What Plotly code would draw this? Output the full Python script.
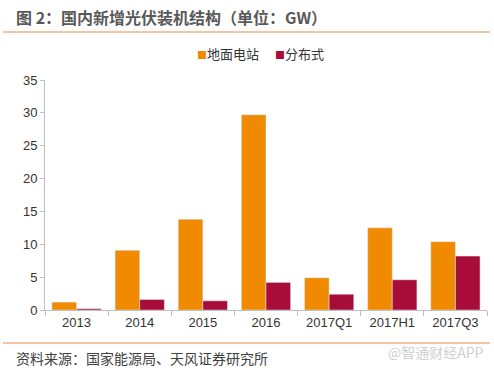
import plotly.graph_objects as go

categories = ["2013", "2014", "2015", "2016", "2017Q1", "2017H1", "2017Q3"]
ground = [1.2, 9.1, 13.8, 29.7, 4.9, 12.5, 10.4]
distributed = [0.2, 1.6, 1.4, 4.2, 2.4, 4.6, 8.2]
series_names = ["地面电站", "分布式"]
y_ticks = [0, 5, 10, 15, 20, 25, 30, 35]

ORANGE = "#F08A00"
RED = "#A80D3A"
W, H = 494, 374
L, R, T, B = 45, 7, 80, 64
PW, PH = W - L - R, H - T - B

def px(x):
    return (x - L) / PW

def py(y):
    return (H - B - y) / PH

FONT = "Liberation Sans, Arial, Noto Sans CJK SC"
CJK = "Noto Sans CJK SC, Liberation Sans"

fig = go.Figure()
fig.add_bar(x=categories, y=ground, name=series_names[0], marker_color=ORANGE, showlegend=False)
fig.add_bar(x=categories, y=distributed, name=series_names[1], marker_color=RED, showlegend=False)

fig.update_layout(
    width=W, height=H,
    margin=dict(l=L, r=R, t=T, b=B),
    paper_bgcolor="white", plot_bgcolor="white",
    barmode="group", bargap=0.22, bargroupgap=0,
    font=dict(family=FONT, size=13, color="#333333"),
    xaxis=dict(showline=True, linecolor="#BFBFBF", linewidth=1,
               ticks="outside", tickson="boundaries", ticklen=5, tickcolor="#BFBFBF",
               showgrid=False, tickfont=dict(size=13, color="#333333")),
    yaxis=dict(range=[0, 35], tickvals=y_ticks, showline=True, linecolor="#BFBFBF",
               linewidth=1, ticks="outside", ticklen=4, tickcolor="#BFBFBF",
               showgrid=False, zeroline=False, tickfont=dict(size=13, color="#333333")),
    showlegend=False,
)

lines = [32, 343]
for yy in lines:
    fig.add_shape(type="line", xref="paper", yref="paper", x0=px(3), x1=px(490),
                  y0=py(yy), y1=py(yy), line=dict(color="#F4B183", width=1.5))

fig.add_annotation(xref="paper", yref="paper", x=px(14), y=py(17), xanchor="left", yanchor="middle",
                   text="<b>图 2：国内新增光伏装机结构（单位：GW）</b>", showarrow=False,
                   font=dict(family=CJK, size=16, color="#595959"))

legend_text = (f"<span style='color:{ORANGE};font-size:10px'>■</span>{series_names[0]}"
               f"\u2003 <span style='color:{RED};font-size:10px'>■</span>{series_names[1]}")
fig.add_annotation(xref="paper", yref="paper", x=px(260), y=py(53), xanchor="center", yanchor="middle",
                   text=legend_text, showarrow=False, font=dict(family=CJK, size=13, color="#333333"))

fig.add_annotation(xref="paper", yref="paper", x=px(14), y=py(358), xanchor="left", yanchor="middle",
                   text="资料来源：国家能源局、天风证券研究所", showarrow=False,
                   font=dict(family=CJK, size=14, color="#404040"))

fig.add_annotation(xref="paper", yref="paper", x=px(486), y=py(352), xanchor="right", yanchor="middle",
                   text="@智通财经APP", showarrow=False,
                   font=dict(family=CJK, size=14, color="#D0D0D0"))

fig.write_html("out.html", config={"displayModeBar": False},
               post_script="document.body.style.margin='0';document.body.style.overflow='hidden';")
